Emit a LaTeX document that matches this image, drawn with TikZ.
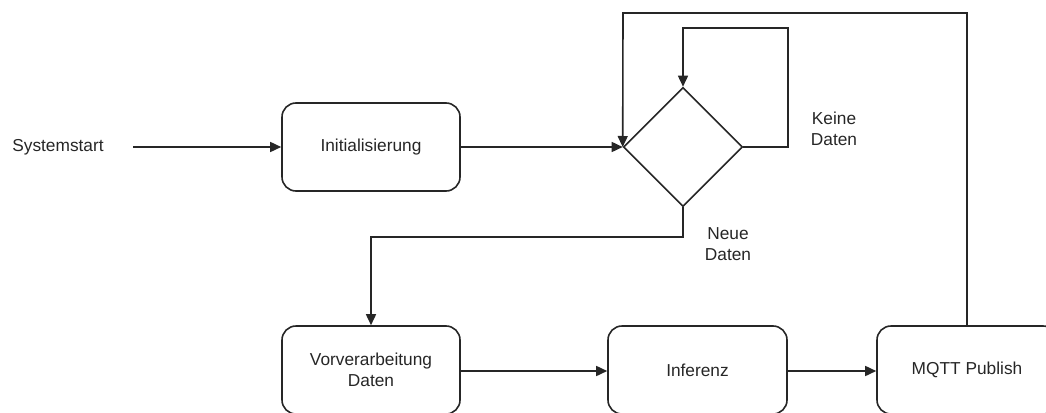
\documentclass[tikz,border=0pt]{standalone}
\usepackage{fontspec}
\setmainfont{Liberation Sans}
\usetikzlibrary{shapes.geometric,arrows.meta}
\begin{document}
\begin{tikzpicture}[x=1pt,y=-1pt,
  every node/.style={font=\fontsize{17.3}{21.5}\selectfont, text=black!85},
  procbox/.style={draw=black!85, line width=1.6pt, rounded corners=14pt, minimum width=178pt, minimum height=88pt, align=center, inner sep=0pt},
  decision/.style={draw=black!85, line width=1.6pt, diamond, aspect=1, minimum size=119pt, inner sep=0pt},
  plain/.style={align=center, inner sep=0pt},
  flow/.style={draw=black!85, line width=1.6pt, -{Triangle[length=11pt,width=10pt]}},
  line/.style={draw=black!85, line width=1.6pt}]
\useasboundingbox (0,0) rectangle (1046,412);
\clip (0,0) rectangle (1046,412);
\node[plain] (start) at (58,147) {Systemstart};
\coordinate (startend) at (133,147);
\node[procbox] (init) at (371,147) {Initialisierung};
\node[decision] (dec) at (683,147) {};
\node[procbox] (prep) at (371,370) {Vorverarbeitung\\Daten};
\node[procbox, minimum width=179pt] (inf) at (697.5,370) {Inferenz};
\node[procbox, minimum width=180pt] (mqtt) at (967,370) {MQTT Publish};
\node[plain] (keine) at (834,129) {Keine\\Daten};
\node[plain] (neue) at (728,244) {Neue\\Daten};
\draw[flow] (startend) -- (init.west);
\draw[flow] (init.east) -- (dec.west);
\draw[flow] (dec.east) -- (788,147) -- (788,28) -- (683,28) -- (dec.north);
\draw[flow] (dec.south) -- (683,237) -- (371,237) -- (prep.north);
\draw[flow] (prep.east |- 0,371) -- (inf.west |- 0,371);
\draw[flow] (inf.east |- 0,371) -- (mqtt.west |- 0,371);
\draw[flow] (mqtt.north) -- (967,13) -- (623,13) -- (dec.west);
\end{tikzpicture}
\end{document}
